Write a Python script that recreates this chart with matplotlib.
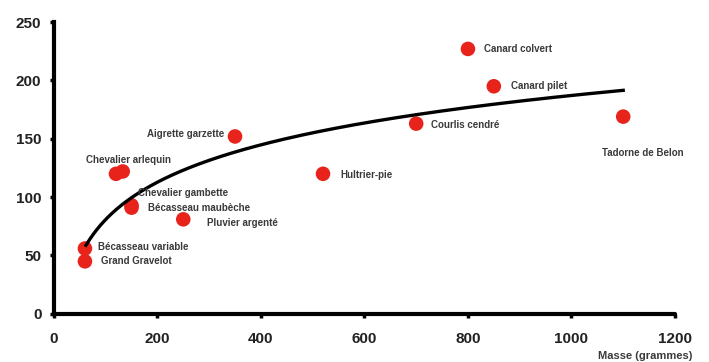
"""Masse vs valeur — limicoles et canards, avec ajustement logarithmique"""

import numpy as np
import matplotlib.pyplot as plt

# ── Données ────────────────────────────────────────────────────────────────

SPECIES = [
    "Canard colvert", "Canard pilet", "Courlis cendré", "Tadorne de Belon",
    "Aigrette garzette", "Hultrier-pie", "Chevalier arlequin", "",
    "Chevalier gambette", "Bécasseau maubèche", "Pluvier argenté",
    "Bécasseau variable", "Grand Gravelot",
]
MASSE = [800, 850, 700, 1100, 350, 520, 120, 133, 150, 150, 250, 60, 60]
VALEUR = [227, 195, 163, 169, 152, 120, 120, 122, 93, 91, 81, 56, 45]

X_TICKS = [0, 200, 400, 600, 800, 1000, 1200]
Y_TICKS = [0, 50, 100, 150, 200, 250]

# décalage des étiquettes (pixels) par rapport au point
LABEL_OFFSETS = [
    (16, 0), (17, 0), (15, -1), (-21, -36), (-88, 2), (17, -1),
    (-30, 14), (0, 0), (6, 12), (16, 0), (24, -4), (13, 1), (16, 0),
]

RED = "#e8231b"
TXT = "#3a3a3a"


def main() -> None:
    plt.rcParams["font.family"] = ["Liberation Sans", "DejaVu Sans"]

    fig = plt.figure(figsize=(7.09, 3.62), dpi=100)
    ax = fig.add_axes([0.076, 0.133, 0.876, 0.806])

    # courbe d'ajustement logarithmique
    x = np.asarray(MASSE, dtype=float)
    y = np.asarray(VALEUR, dtype=float)
    a, b = np.polyfit(np.log(x), y, 1)
    xs = np.linspace(62, 1100, 300)
    ax.plot(xs, a * np.log(xs) + b, color="black", lw=2.4, zorder=3)

    ax.scatter(x, y, s=110, color=RED, edgecolors="none", zorder=2)

    for name, xi, yi, (dx, dy) in zip(SPECIES, MASSE, VALEUR, LABEL_OFFSETS):
        if not name:
            continue
        ax.annotate(name, (xi, yi), xytext=(dx, dy), textcoords="offset pixels",
                    ha="left", va="center", fontsize=7, fontweight="bold",
                    color=TXT, zorder=4)

    ax.set_xlim(0, 1200)
    ax.set_ylim(0, 250)
    ax.set_xticks(X_TICKS)
    ax.set_yticks(Y_TICKS)
    ax.tick_params(labelsize=11, length=3, width=2.5, colors="black")
    ax.tick_params(axis="x", pad=10)
    ax.tick_params(axis="y", pad=6)
    for lab in ax.get_xticklabels() + ax.get_yticklabels():
        lab.set_fontweight("bold")
        lab.set_color("#222222")

    for side in ("top", "right"):
        ax.spines[side].set_visible(False)
    for side in ("left", "bottom"):
        ax.spines[side].set_linewidth(3)
    ax.spines["bottom"].set_capstyle("round")

    fig.text(0.843, 0.003, "Masse (grammes)", ha="left", va="bottom",
             fontsize=8, fontweight="bold", color=TXT)

    fig.savefig("out.png", dpi=100, facecolor="white")
    plt.close(fig)


if __name__ == "__main__":
    main()
